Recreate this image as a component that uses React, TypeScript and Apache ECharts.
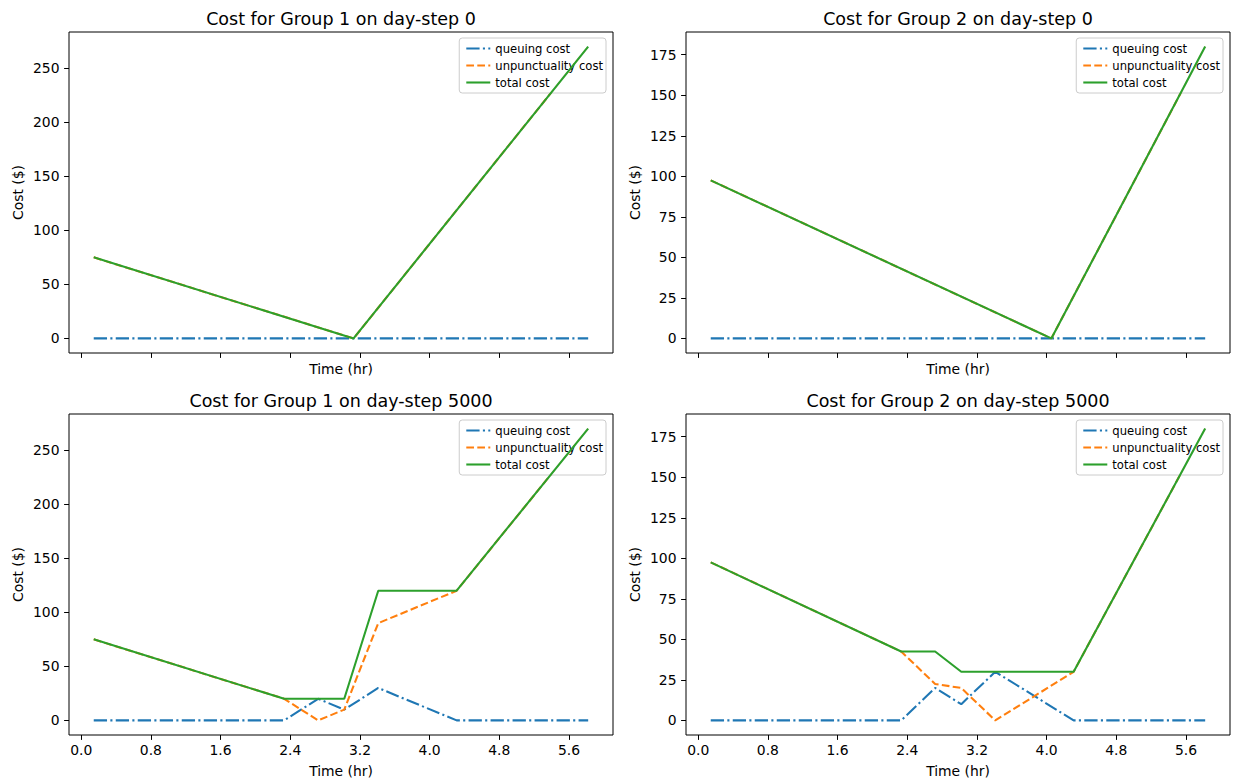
import React, { useEffect, useRef } from 'react';
import * as echarts from 'echarts';

const FONT = 'DejaVu Sans';

// x tick labels (hours)
const X_TICKS = [0, 0.8, 1.6, 2.4, 3.2, 4.0, 4.8, 5.6];
const Y_TICKS_G1 = [0, 50, 100, 150, 200, 250];
const Y_TICKS_G2 = [0, 25, 50, 75, 100, 125, 150, 175];

const SERIES_NAMES = ['queuing cost', 'unpunctuality cost', 'total cost'];

// Group 1, day-step 0
const X_G1_S0 = [0.144, 3.127, 5.82];
const Q_G1_S0 = [0, 0, 0];
const U_G1_S0 = [75, 0, 270];
const T_G1_S0 = [75, 0, 270];

// Group 2, day-step 0
const X_G2_S0 = [0.144, 4.054, 5.82];
const Q_G2_S0 = [0, 0, 0];
const U_G2_S0 = [97.5, 0, 180];
const T_G2_S0 = [97.5, 0, 180];

// day-step 5000 (both groups)
const X_S5000 = [0.144, 2.33, 2.72, 3.02, 3.41, 4.31, 5.82];
const Q_G1_S5000 = [0, 0, 20, 10, 30, 0, 0];
const U_G1_S5000 = [75, 20, 0, 10, 90, 120, 270];
const T_G1_S5000 = [75, 20, 20, 20, 120, 120, 270];
const Q_G2_S5000 = [0, 0, 20, 10, 30, 0, 0];
const U_G2_S5000 = [97.5, 42.5, 22.5, 20, 0, 30, 180];
const T_G2_S5000 = [97.5, 42.5, 42.5, 30, 30, 30, 180];

const COLORS = ['#1f77b4', '#ff7f0e', '#2ca02c'];
const DASHES: any[] = [[13.3, 3.3, 2.1, 3.3], [7.7, 3.3], 'solid'];

const X_MIN = -0.14;
const X_MAX = 6.105;

const panels = [
  { title: 'Cost for Group 1 on day-step 0', left: 69, top: 32, x: X_G1_S0, ys: [Q_G1_S0, U_G1_S0, T_G1_S0], ymin: -13.5, ymax: 283.5, yticks: Y_TICKS_G1, xLabels: false },
  { title: 'Cost for Group 2 on day-step 0', left: 686, top: 32, x: X_G2_S0, ys: [Q_G2_S0, U_G2_S0, T_G2_S0], ymin: -9, ymax: 189, yticks: Y_TICKS_G2, xLabels: false },
  { title: 'Cost for Group 1 on day-step 5000', left: 69, top: 414, x: X_S5000, ys: [Q_G1_S5000, U_G1_S5000, T_G1_S5000], ymin: -13.5, ymax: 283.5, yticks: Y_TICKS_G1, xLabels: true },
  { title: 'Cost for Group 2 on day-step 5000', left: 686, top: 414, x: X_S5000, ys: [Q_G2_S5000, U_G2_S5000, T_G2_S5000], ymin: -9, ymax: 189, yticks: Y_TICKS_G2, xLabels: true },
];

const W = 544;
const H = 321;

function buildOption() {
  const grid: any[] = [];
  const xAxis: any[] = [];
  const yAxis: any[] = [];
  const series: any[] = [];
  const title: any[] = [];
  const legend: any[] = [];
  panels.forEach((p, i) => {
    grid.push({
      left: p.left, top: p.top, width: W, height: H, containLabel: false,
      show: true, borderColor: '#000', borderWidth: 1, backgroundColor: 'transparent',
    });
    title.push({
      text: p.title, left: p.left + W / 2, top: p.top - 22, textAlign: 'center', padding: 0,
      textStyle: { fontFamily: FONT, fontSize: 17.5, fontWeight: 'normal', color: '#000' },
    });
    xAxis.push({
      type: 'value', gridIndex: i, min: X_MIN, max: X_MAX,
      axisLine: { show: false, onZero: false },
      splitLine: { show: false },
      axisTick: { show: true, length: 4.9, lineStyle: { color: '#000', width: 1 }, customValues: X_TICKS },
      axisLabel: {
        show: p.xLabels, customValues: X_TICKS, margin: 7.5,
        formatter: (v: number) => v.toFixed(1),
        color: '#000', fontSize: 13.9, fontFamily: FONT,
      },
      name: 'Time (hr)', nameLocation: 'middle', nameGap: p.xLabels ? 28.5 : 9,
      nameTextStyle: { color: '#000', fontSize: 13.9, fontFamily: FONT, verticalAlign: 'top' },
    });
    yAxis.push({
      type: 'value', gridIndex: i, min: p.ymin, max: p.ymax,
      axisLine: { show: false, onZero: false },
      splitLine: { show: false },
      axisTick: { show: true, length: 4.9, lineStyle: { color: '#000', width: 1 }, customValues: p.yticks },
      axisLabel: {
        customValues: p.yticks, margin: 9.5,
        formatter: (v: number) => String(v),
        color: '#000', fontSize: 13.9, fontFamily: FONT,
      },
      name: 'Cost ($)', nameLocation: 'middle', nameGap: 44.5,
      nameTextStyle: { color: '#000', fontSize: 13.9, fontFamily: FONT },
    });
    SERIES_NAMES.forEach((name, k) => {
      series.push({
        type: 'line', name, xAxisIndex: i, yAxisIndex: i,
        data: p.x.map((xv, j) => [xv, p.ys[k][j]]),
        symbol: 'none', showSymbol: false,
        lineStyle: { color: COLORS[k], width: 2.08, type: DASHES[k] },
        itemStyle: { color: COLORS[k] },
        z: 2 + k,
      });
    });
    legend.push({
      orient: 'vertical',
      right: 1233 - (p.left + W - 7),
      top: p.top + 6,
      data: SERIES_NAMES,
      itemWidth: 24, itemHeight: 13, itemGap: 4,
      padding: [4, 3, 4, 6],
      backgroundColor: 'rgba(255,255,255,0.8)',
      borderColor: '#cccccc', borderWidth: 1, borderRadius: 3,
      itemStyle: { color: 'rgba(0,0,0,0)', borderColor: 'rgba(0,0,0,0)', borderWidth: 0, opacity: 0 },
      lineStyle: { width: 2.08 },
      textStyle: { color: '#000', fontSize: 11.6, fontFamily: FONT, lineHeight: 13 },
      selectedMode: false,
    });
  });
  return {
    animation: false,
    backgroundColor: '#ffffff',
    textStyle: { fontFamily: FONT },
    title, grid, xAxis, yAxis, series, legend,
  };
}

export default function App() {
  const ref = useRef<HTMLDivElement>(null);
  useEffect(() => {
    document.body.style.margin = '0';
    const chart = echarts.init(ref.current as HTMLDivElement, null, { renderer: 'svg' });
    chart.setOption(buildOption() as any);
    return () => chart.dispose();
  }, []);
  return <div ref={ref} style={{ width: 1233, height: 782, background: '#fff' }} />;
}
